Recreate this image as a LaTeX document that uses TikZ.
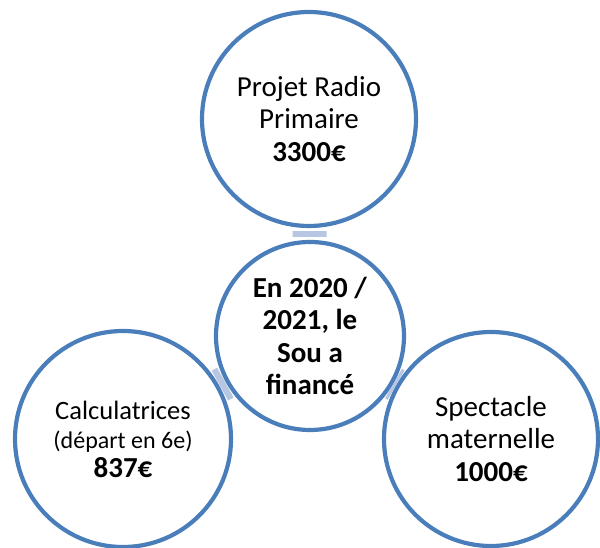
\documentclass[tikz,border=0pt]{standalone}
\usepackage{fontspec}
\setmainfont{Carlito}
\definecolor{ringblue}{HTML}{4A7EBB}
\definecolor{barblue}{HTML}{B7C7E3}
\tikzset{
  ring/.style={circle, draw=ringblue, line width=4.2pt, fill=white, align=center, inner sep=0pt,
    font=\fontsize{29}{32.5}\selectfont},
  link/.style={draw=barblue, line width=34pt}
}
\begin{document}
\begin{tikzpicture}[x=1pt,y=1pt]
\useasboundingbox (0,0) rectangle (600,548);
\node[ring, minimum size=214pt] (top) at (309,429) {Projet Radio\\Primaire\\\textbf{3300€}};
\node[ring, minimum size=188pt] (mid) at (310,212) {\textbf{En 2020 /}\\\textbf{2021, le}\\\textbf{Sou a}\\\textbf{financé}};
\node[ring, minimum size=216pt, font=\fontsize{26.5}{29}\selectfont] (left) at (123,109) {Calculatrices\\{\fontsize{24}{26}\selectfont(départ en 6e)}\\{\fontsize{29}{31}\selectfont\textbf{837€}}};
\node[ring, minimum size=214pt] (right) at (491,109) {Spectacle\\maternelle\\\textbf{1000€}};
\draw[link, shorten <=3pt, shorten >=3pt] (top) -- (mid);
\draw[link, shorten <=0.5pt, shorten >=0.5pt] (left) -- (mid);
\draw[link] (right) -- (mid);
\end{tikzpicture}
\end{document}
